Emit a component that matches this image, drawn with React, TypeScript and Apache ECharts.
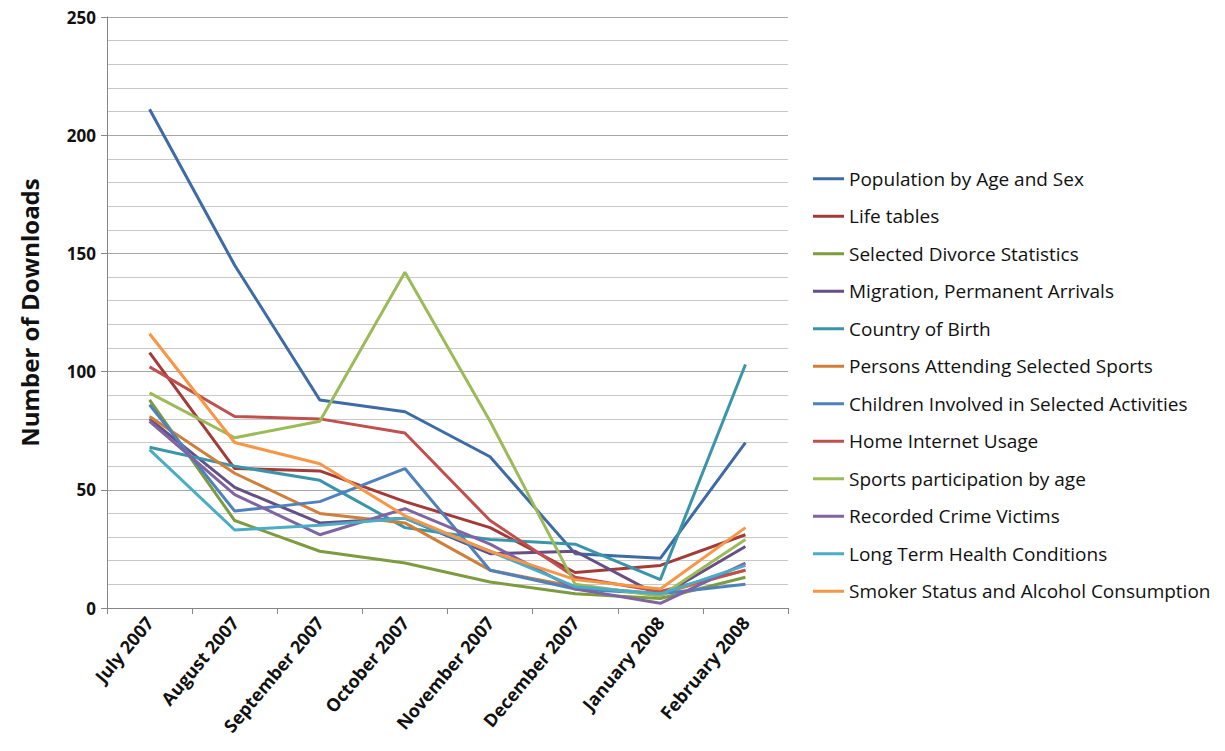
import React, { useEffect, useRef } from "react";
import * as echarts from "echarts";

const categories = [
  "July 2007",
  "August 2007",
  "September 2007",
  "October 2007",
  "November 2007",
  "December 2007",
  "January 2008",
  "February 2008",
];

const seriesNames = [
  "Population by Age and Sex",
  "Life tables",
  "Selected Divorce Statistics",
  "Migration, Permanent Arrivals",
  "Country of Birth",
  "Persons Attending Selected Sports",
  "Children Involved in Selected Activities",
  "Home Internet Usage",
  "Sports participation by age",
  "Recorded Crime Victims",
  "Long Term Health Conditions",
  "Smoker Status and Alcohol Consumption",
];

const populationByAgeAndSex = [211, 145, 88, 83, 64, 23, 21, 70];
const lifeTables = [108, 59, 58, 45, 34, 15, 18, 31];
const selectedDivorceStatistics = [88, 37, 24, 19, 11, 6, 4, 13];
const migrationPermanentArrivals = [80, 51, 36, 38, 23, 24, 5, 26];
const countryOfBirth = [68, 60, 54, 34, 29, 27, 12, 103];
const personsAttendingSelectedSports = [81, 57, 40, 36, 16, 9, 6, 16];
const childrenInvolvedInSelectedActivities = [86, 41, 45, 59, 16, 8, 6, 10];
const homeInternetUsage = [102, 81, 80, 74, 37, 13, 7, 16];
const sportsParticipationByAge = [91, 72, 79, 142, 79, 10, 5, 29];
const recordedCrimeVictims = [79, 48, 31, 42, 27, 8, 2, 19];
const longTermHealthConditions = [67, 33, 35, 38, 24, 9, 6, 18];
const smokerStatusAndAlcoholConsumption = [116, 70, 61, 39, 24, 12, 8, 34];

const seriesValues = [
  populationByAgeAndSex,
  lifeTables,
  selectedDivorceStatistics,
  migrationPermanentArrivals,
  countryOfBirth,
  personsAttendingSelectedSports,
  childrenInvolvedInSelectedActivities,
  homeInternetUsage,
  sportsParticipationByAge,
  recordedCrimeVictims,
  longTermHealthConditions,
  smokerStatusAndAlcoholConsumption,
];

const colors = [
  "#3D6BA6",
  "#A33B38",
  "#7D9B3F",
  "#654F85",
  "#3B95A9",
  "#D07F3A",
  "#4F81BD",
  "#C0504D",
  "#9BBB59",
  "#8064A2",
  "#4BACC6",
  "#F79646",
];

const FONT = "'Open Sans', 'Liberation Sans', Arial, sans-serif";

export default function App() {
  const ref = useRef<HTMLDivElement>(null);
  useEffect(() => {
    if (!ref.current) return;
    const chart = echarts.init(ref.current, undefined, { renderer: "svg" });
    chart.setOption({
      animation: false,
      backgroundColor: "#ffffff",
      color: colors,
      grid: { left: 107, right: 437, top: 17, bottom: 143, containLabel: false },
      legend: {
        orient: "vertical",
        left: 808,
        top: 162,
        itemWidth: 31,
        itemHeight: 3,
        itemGap: 14,
        icon: "rect",
        textStyle: { fontFamily: FONT, fontSize: 19, color: "#111", lineHeight: 23.5 },
        data: seriesNames,
      },
      xAxis: {
        type: "category",
        data: categories,
        boundaryGap: true,
        axisLine: { lineStyle: { color: "#868686", width: 1 } },
        axisTick: { show: true, length: 6, lineStyle: { color: "#868686" } },
        axisLabel: {
          rotate: 50,
          fontFamily: FONT,
          fontWeight: "bold",
          fontSize: 18,
          color: "#111",
          margin: 11,
          interval: 0,
        },
        splitLine: { show: false },
      },
      yAxis: {
        type: "value",
        min: 0,
        max: 250,
        interval: 50,
        name: "Number of Downloads",
        nameLocation: "middle",
        nameGap: 66,
        nameTextStyle: { fontFamily: FONT, fontWeight: "bold", fontSize: 24, color: "#111" },
        axisLine: { show: true, lineStyle: { color: "#868686", width: 1 } },
        axisTick: { show: true, length: 6, lineStyle: { color: "#868686" } },
        axisLabel: {
          fontFamily: FONT,
          fontWeight: "bold",
          fontSize: 17,
          color: "#111",
          margin: 11,
        },
        splitLine: { show: true, lineStyle: { color: "#a6a6a6", width: 1 } },
        minorTick: { show: false, splitNumber: 5 },
        minorSplitLine: { show: true, lineStyle: { color: "#c8c8c8", width: 1 } },
      },
      series: seriesNames.map((name, i) => ({
        name,
        type: "line",
        data: seriesValues[i],
        symbol: "none",
        showSymbol: false,
        smooth: false,
        lineStyle: { width: 3, color: colors[i] },
        itemStyle: { color: colors[i] },
      })),
    });
    return () => chart.dispose();
  }, []);
  return (
    <div
      ref={ref}
      style={{ position: "fixed", left: 0, top: 0, width: 1225, height: 751, background: "#fff" }}
    />
  );
}
